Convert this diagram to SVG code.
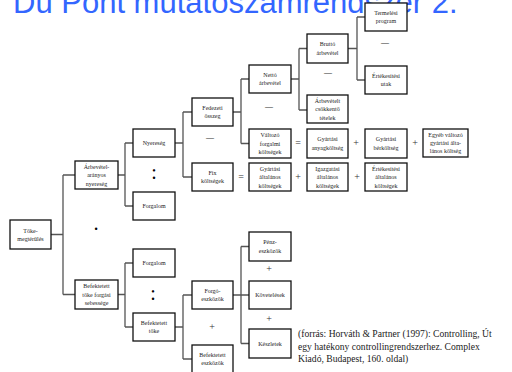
<svg xmlns="http://www.w3.org/2000/svg" width="512" height="372" viewBox="0 0 512 372">
<style>
.box rect{fill:#fff;stroke:#111;stroke-width:1.3}
.box text{font-family:"Liberation Serif","Times New Roman",serif;font-size:6px;fill:#222;text-anchor:middle}
.conn path{fill:none;stroke:#555;stroke-width:1.3}
.op{font-family:"Liberation Serif","Times New Roman",serif;fill:#333;text-anchor:middle}
.pl{font-size:10px}
.dash{font-size:8px}
.dot{font-size:20px;fill:#000}
.title{font-family:"Liberation Sans",Arial,sans-serif;font-size:31px;fill:#3366ff}
.cite{font-family:"Liberation Serif","Times New Roman",serif;font-size:9.6px;fill:#222}
</style>
<rect width="512" height="372" fill="#fff"/>
<text class="title" x="13" y="13">Du Pont mutatószámrendszer 2.</text>

<g id="connectors" class="conn">
<path d="M51 234.5H63M63 175V294.5M63 175H75M63 294.5H75"/>
<path d="M118 175H125M125 143V206M125 143H133M125 206H133"/>
<path d="M118 294.5H125M125 263V327M125 263H133M125 327H133"/>
<path d="M175 143H183M183 112V177M183 112H192M183 177H192"/>
<path d="M175 327H183M183 295V359M183 295H192M183 359H192"/>
<path d="M233 112H241M241 79V143.5M241 79H249M241 143.5H249"/>
<path d="M233 295H249M241 246.5V343.5M241 246.5H249M241 343.5H249"/>
<path d="M291 79H299M299 48.5V110M299 48.5H307M299 110H307"/>
<path d="M348 48.5H357M357 17V80M357 17H365M357 80H365"/>
</g>

<g id="n-toke" class="box"><rect x="10" y="220" width="41" height="29"/><text x="30.5" y="232.5"><tspan x="30.5">Tőke-</tspan><tspan x="30.5" dy="8.5">megtérülés</tspan></text></g>
<g id="n-arbevetel-aranyos" class="box"><rect x="75" y="161" width="43" height="28"/><text x="96.5" y="168.5"><tspan x="96.5">Árbevétel-</tspan><tspan x="96.5" dy="8.5">arányos</tspan><tspan x="96.5" dy="8.5">nyereség</tspan></text></g>
<g id="n-befektetett-toke-forgasi" class="box"><rect x="75" y="280" width="43" height="29"/><text x="96.5" y="288"><tspan x="96.5">Befektetett</tspan><tspan x="96.5" dy="8.5">tőke forgási</tspan><tspan x="96.5" dy="8.5">sebessége</tspan></text></g>
<g id="n-nyereseg" class="box"><rect x="133" y="129" width="42" height="28"/><text x="154" y="145">Nyereség</text></g>
<g id="n-forgalom1" class="box"><rect x="133" y="192" width="42" height="28"/><text x="154" y="208">Forgalom</text></g>
<g id="n-forgalom2" class="box"><rect x="133" y="249" width="42" height="28"/><text x="154" y="265">Forgalom</text></g>
<g id="n-befektetett-toke" class="box"><rect x="133" y="313" width="42" height="28"/><text x="154" y="324.8"><tspan x="154">Befektetett</tspan><tspan x="154" dy="8.5">tőke</tspan></text></g>
<g id="n-fedezeti" class="box"><rect x="192" y="98" width="41" height="28"/><text x="212.5" y="109.8"><tspan x="212.5">Fedezeti</tspan><tspan x="212.5" dy="8.5">összeg</tspan></text></g>
<g id="n-fix" class="box"><rect x="192" y="163" width="41" height="28"/><text x="212.5" y="174.8"><tspan x="212.5">Fix</tspan><tspan x="212.5" dy="8.5">költségek</tspan></text></g>
<g id="n-forgo" class="box"><rect x="192" y="281" width="41" height="28"/><text x="212.5" y="292.8"><tspan x="212.5">Forgó-</tspan><tspan x="212.5" dy="8.5">eszközök</tspan></text></g>
<g id="n-befektetett-eszkozok" class="box"><rect x="192" y="345" width="41" height="28"/><text x="212.5" y="356.8"><tspan x="212.5">Befektetett</tspan><tspan x="212.5" dy="8.5">eszközök</tspan></text></g>
<g id="n-netto" class="box"><rect x="249" y="65" width="42" height="28"/><text x="270" y="76.8"><tspan x="270">Nettó</tspan><tspan x="270" dy="8.5">árbevétel</tspan></text></g>
<g id="n-valtozo" class="box"><rect x="249" y="129" width="42" height="29"/><text x="270" y="137"><tspan x="270">Változó</tspan><tspan x="270" dy="8.5">forgalmi</tspan><tspan x="270" dy="8.5">költségek</tspan></text></g>
<g id="n-gyartasi-altalanos" class="box"><rect x="249" y="163" width="42" height="28"/><text x="270" y="170.5"><tspan x="270">Gyártási</tspan><tspan x="270" dy="8.5">általános</tspan><tspan x="270" dy="8.5">költségek</tspan></text></g>
<g id="n-penz" class="box"><rect x="249" y="232" width="42" height="29"/><text x="270" y="244.3"><tspan x="270">Pénz-</tspan><tspan x="270" dy="8.5">eszközök</tspan></text></g>
<g id="n-kovetelesek" class="box"><rect x="249" y="281" width="42" height="28"/><text x="270" y="297">Követelések</text></g>
<g id="n-keszletek" class="box"><rect x="249" y="329" width="42" height="29"/><text x="270" y="345.5">Készletek</text></g>
<g id="n-brutto" class="box"><rect x="307" y="34" width="41" height="29"/><text x="327.5" y="46.3"><tspan x="327.5">Bruttó</tspan><tspan x="327.5" dy="8.5">árbevétel</tspan></text></g>
<g id="n-arbevetelt-csokkento" class="box"><rect x="307" y="95" width="41" height="28"/><text x="327.5" y="102.5"><tspan x="327.5">Árbevételt</tspan><tspan x="327.5" dy="8.5">csökkentő</tspan><tspan x="327.5" dy="8.5">tételek</tspan></text></g>
<g id="n-gyartasi-anyag" class="box"><rect x="307" y="129" width="41" height="29"/><text x="327.5" y="141.3"><tspan x="327.5">Gyártási</tspan><tspan x="327.5" dy="8.5">anyagköltség</tspan></text></g>
<g id="n-igazgatasi" class="box"><rect x="307" y="163" width="41" height="28"/><text x="327.5" y="170.5"><tspan x="327.5">Igazgatási</tspan><tspan x="327.5" dy="8.5">általános</tspan><tspan x="327.5" dy="8.5">költségek</tspan></text></g>
<g id="n-termelesi" class="box"><rect x="365" y="3" width="42" height="28"/><text x="386" y="14.8"><tspan x="386">Termelési</tspan><tspan x="386" dy="8.5">program</tspan></text></g>
<g id="n-ertekesitesi-utak" class="box"><rect x="365" y="66" width="42" height="28"/><text x="386" y="77.8"><tspan x="386">Értékesítési</tspan><tspan x="386" dy="8.5">utak</tspan></text></g>
<g id="n-gyartasi-ber" class="box"><rect x="365" y="129" width="42" height="29"/><text x="386" y="141.3"><tspan x="386">Gyártási</tspan><tspan x="386" dy="8.5">bérköltség</tspan></text></g>
<g id="n-ertekesitesi-altalanos" class="box"><rect x="365" y="163" width="42" height="28"/><text x="386" y="170.5"><tspan x="386">Értékesítési</tspan><tspan x="386" dy="8.5">általános</tspan><tspan x="386" dy="8.5">költségek</tspan></text></g>
<g id="n-egyeb" class="box"><rect x="423" y="129" width="45" height="28"/><text x="445.5" y="136.8"><tspan x="445.5">Egyéb változó</tspan><tspan x="445.5" dy="8.3">gyártási álta-</tspan><tspan x="445.5" dy="8.3">lános költség</tspan></text></g>

<g id="operators">
<text class="op dash" x="385" y="44.8">—</text>
<text class="op dash" x="328" y="74.8">—</text>
<text class="op dash" x="269" y="108.8">—</text>
<text class="op dash" x="210" y="139.8">—</text>
<text class="op pl" x="298" y="146">=</text>
<text class="op pl" x="356" y="146">+</text>
<text class="op pl" x="415" y="146">+</text>
<text class="op pl" x="241" y="180">=</text>
<text class="op pl" x="298" y="180">+</text>
<text class="op pl" x="357" y="180">+</text>
<text class="op pl" x="269" y="272">+</text>
<text class="op pl" x="269" y="322">+</text>
<text class="op pl" x="212" y="330">+</text>
<text class="op dot" x="154" y="179">:</text>
<text class="op dot" x="153" y="300">:</text>
<text class="op dot" x="96" y="236">·</text>
</g>

<text class="cite" x="298" y="337.3">(forrás: Horváth &amp; Partner (1997): Controlling, Út</text>
<text class="cite" x="298" y="349.6">egy hatékony controllingrendszerhez. Complex</text>
<text class="cite" x="298" y="361.9">Kiadó, Budapest, 160. oldal)</text>
</svg>
